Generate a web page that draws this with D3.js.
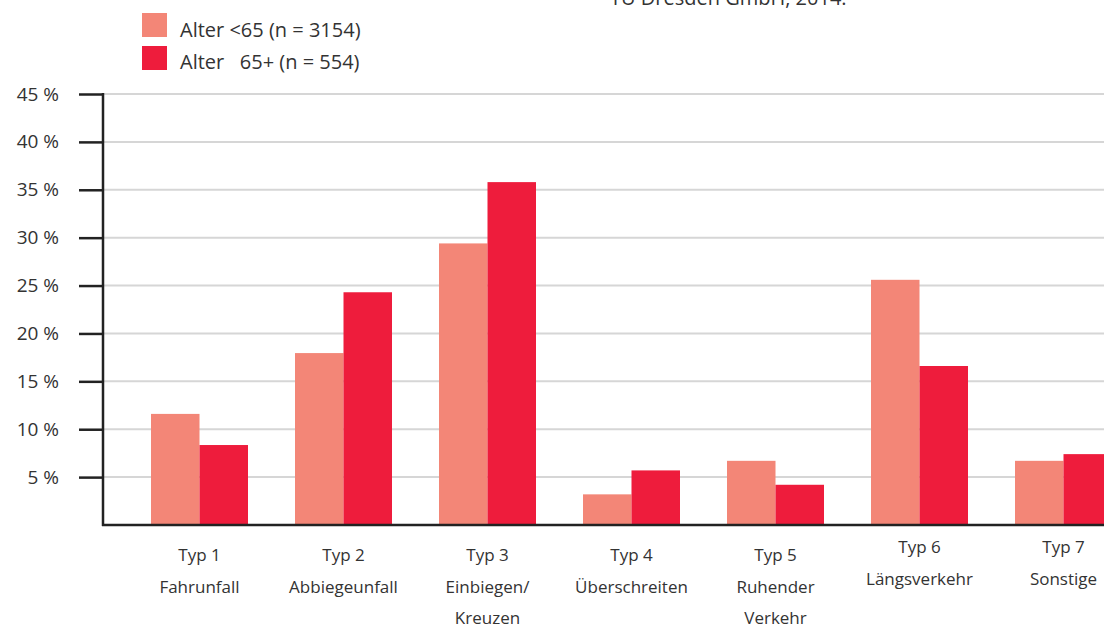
<!DOCTYPE html>
<html>
<head>
<meta charset="utf-8">
<script src="https://cdn.jsdelivr.net/npm/d3@7"></script>
<style>
  body { margin: 0; background: #fff; }
  text { font-family: "Open Sans", "DejaVu Sans", sans-serif; fill: #333; }
</style>
</head>
<body>
<div id="chart"></div>
<script>
var categories = ["Typ 1", "Typ 2", "Typ 3", "Typ 4", "Typ 5", "Typ 6", "Typ 7"];
var subLabels = [["Fahrunfall"], ["Abbiegeunfall"], ["Einbiegen/", "Kreuzen"], ["Überschreiten"], ["Ruhender", "Verkehr"], ["Längsverkehr"], ["Sonstige"]];
var under65 = [11.6, 17.95, 29.4, 3.2, 6.7, 25.6, 6.7];
var over65 = [8.35, 24.3, 35.8, 5.7, 4.2, 16.6, 7.4];
var seriesNames = ["Alter <65 (n = 3154)", "Alter   65+ (n = 554)"];
var yTicks = [5, 10, 15, 20, 25, 30, 35, 40, 45];

var width = 1104, height = 628;
var colors = ["#f38677", "#ee1c3c"];

var svg = d3.select("#chart").append("svg")
    .attr("width", width)
    .attr("height", height);

var y = d3.scaleLinear()
    .domain([0, 45])
    .range([525, 94]);

var x0 = d3.scaleBand()
    .domain(categories)
    .range([104, 104 + 144 * (7 + 47 / 144)])
    .paddingInner(47 / 144)
    .paddingOuter(47 / 144);

var x1 = d3.scaleBand()
    .domain([0, 1])
    .range([0, x0.bandwidth()]);

// grid
svg.append("g")
    .selectAll("line")
    .data(yTicks)
    .enter().append("line")
    .attr("x1", 103).attr("x2", width)
    .attr("y1", d => y(d)).attr("y2", d => y(d))
    .attr("stroke", "#d6d6d6")
    .attr("stroke-width", 2);

// bars
var data = categories.map((c, i) => ({ cat: c, vals: [under65[i], over65[i]] }));

svg.append("g")
    .selectAll("g")
    .data(data)
    .enter().append("g")
    .attr("transform", d => `translate(${x0(d.cat)},0)`)
    .selectAll("rect")
    .data(d => d.vals.map((v, k) => ({ k: k, v: v })))
    .enter().append("rect")
    .attr("x", d => x1(d.k))
    .attr("width", x1.bandwidth())
    .attr("y", d => y(d.v))
    .attr("height", d => y(0) - y(d.v))
    .attr("fill", d => colors[d.k]);

// y axis
var yAxis = svg.append("g")
    .attr("transform", "translate(103,0)")
    .call(d3.axisLeft(y).tickValues(yTicks).tickSize(24).tickPadding(20)
        .tickFormat(d => d + " %"));
yAxis.select(".domain").remove();
yAxis.selectAll(".tick line").attr("stroke", "#222").attr("stroke-width", 2.5);
yAxis.selectAll(".tick text").style("font-size", "19px").attr("fill", "#333");

svg.append("line")
    .attr("x1", 103).attr("x2", 103)
    .attr("y1", y(45) - 1).attr("y2", y(0) + 1)
    .attr("stroke", "#222").attr("stroke-width", 2.5);
svg.append("line")
    .attr("x1", 102).attr("x2", width)
    .attr("y1", y(0)).attr("y2", y(0))
    .attr("stroke", "#222").attr("stroke-width", 2.5);

// x labels
var lab = svg.append("g")
    .selectAll("text")
    .data(data)
    .enter().append("text")
    .attr("text-anchor", "middle")
    .attr("x", d => x0(d.cat) + x0.bandwidth() / 2)
    .attr("y", (d, i) => i >= 5 ? 553 : 561);
lab.append("tspan")
    .style("font-size", "17px")
    .text(d => d.cat);
lab.each(function(d, i) {
    var t = d3.select(this);
    subLabels[i].forEach(function(s, j) {
        t.append("tspan")
            .attr("x", x0(d.cat) + x0.bandwidth() / 2)
            .attr("dy", j == 0 ? 32 : 31)
            .style("font-size", "17px")
            .text(s);
    });
});

// legend
var legend = svg.append("g");
seriesNames.forEach(function(name, k) {
    legend.append("rect")
        .attr("x", 142).attr("y", 13 + k * 33)
        .attr("width", 25).attr("height", 24)
        .attr("fill", colors[k]);
    legend.append("text")
        .attr("x", 180).attr("y", 37 + k * 32)
        .attr("xml:space", "preserve")
        .style("white-space", "pre")
        .style("font-size", "20px")
        .text(name);
});

// source note, partially cut off at top
svg.append("text")
    .attr("x", 610).attr("y", 5)
    .style("font-size", "20px")
    .text("TU Dresden GmbH, 2014.");
</script>
</body>
</html>
